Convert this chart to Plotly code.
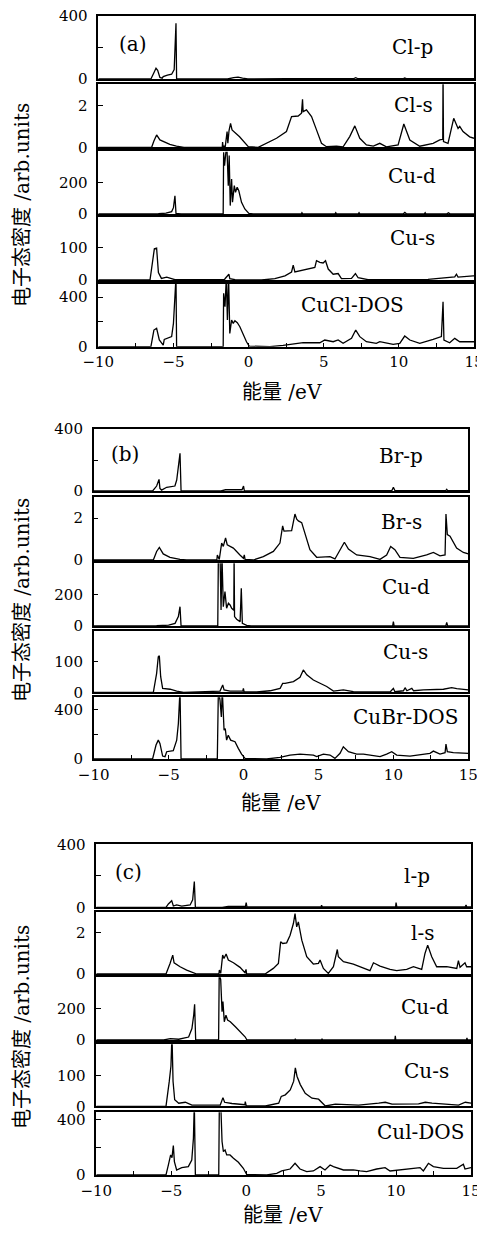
import plotly.graph_objects as go

W, H = 485, 1235
PAGE_MARGIN = 8  # default <body> margin of the written page

# ---------------- data: (energy eV, DOS) ----------------
A_CL_P = [(-10,0),(-6.5,0),(-6.3,40),(-6.16,68),(-6.05,55),(-5.9,10),(-5.75,5),(-5.68,15),(-5.4,25),(-5.12,30),
          (-4.95,60),(-4.9,204),(-4.83,352),(-4.79,0),(-1.4,0),(-1.0,8),(-0.7,12),(-0.4,6),(-0.05,0),(2.5,2),(5,3),
          (7.0,3),(7.13,8),(7.25,3),(10.3,3),(10.39,6),(10.5,3),(12.9,3),(12.94,7),(13.0,3),(15,3)]
A_CL_S = [(-10,0),(-6.45,0),(-6.3,0.3),(-6.12,0.59),(-5.9,0.35),(-5.68,0.27),(-5.24,0.14),(-4.8,0.06),(-4.3,0),
          (-1.75,0),(-1.73,0.25),(-1.7,0.05),(-1.55,0.05),(-1.43,0.75),(-1.38,0.2),(-1.3,0.8),(-1.2,1.14),(-1.1,0.83),
          (-0.6,0.5),(-0.02,0.03),(0.64,0),(1.2,0.19),(1.86,0.43),(2.52,0.75),(2.86,1.46),(3.3,1.49),(3.52,1.62),
          (3.59,2.29),(3.63,1.70),(3.85,1.78),(4.19,1.46),(4.52,0.83),(4.85,0.19),(5.18,0.03),(5.85,0.06),(6.29,0.02),
          (6.73,0.51),(7.07,1.02),(7.4,0.43),(7.84,0.11),(8.3,0.06),(8.73,0.19),(9.17,0.02),(9.95,0.11),(10.33,1.11),
          (10.73,0.35),(11.39,0.05),(12.28,0.19),(12.72,0.35),(12.92,0.38),(12.94,3.5),(12.97,0.27),(13.27,0.19),
          (13.65,1.38),(13.94,0.9),(14.05,1.0),(14.27,0.75),(14.71,0.5),(15,0.43)]
A_CU_D = [(-10,0),(-6.34,0),(-6.0,2),(-5.5,5),(-5.12,15),(-5.0,40),(-4.9,115),(-4.83,4),(-4.5,0),(-1.69,0),
          (-1.66,390),(-1.6,305),(-1.55,380),(-1.51,390),(-1.43,390),(-1.35,179),(-1.29,370),(-1.22,53),(-1.13,221),
          (-1.07,74),(-0.95,179),(-0.87,137),(-0.76,169),(-0.65,147),(-0.47,74),(-0.25,32),(0.02,4),(0.3,0),(3.5,0),
          (3.55,8),(3.6,1),(5.75,1),(5.8,8),(5.85,1),(7.3,1),(7.35,8),(7.4,1),(10.3,1),(10.4,10),(10.5,1),(11.7,1),
          (11.75,8),(11.8,1),(13.2,1),(13.3,8),(13.4,1),(15,1)]
A_CU_S = [(-10,0),(-6.56,0),(-6.27,97),(-6.12,99),(-6.0,23),(-5.8,5),(-5.45,9),(-5.12,5),(-4.9,1),(-1.6,1),
          (-1.57,4),(-1.31,18),(-1.25,4),(-0.9,1),(0.86,0),(1.75,4),(2.42,13),(2.86,25),(2.97,46),(3.08,25),(4.41,39),
          (4.52,60),(4.74,55),(4.96,53),(5.12,60),(5.3,34),(5.63,18),(5.96,20),(6.18,4),(6.85,5),(7.11,20),(7.29,7),
          (7.95,1),(11.94,2),(13.05,7),(13.72,10),(13.83,18),(13.94,9),(14.94,13),(15,13)]
A_DOS = [(-10,0),(-6.5,0),(-6.3,134),(-6.12,148),(-5.94,54),(-5.68,13),(-5.61,59),(-5.12,81),(-5.0,188),(-4.9,376),
         (-4.83,560),(-4.79,0),(-1.69,0),(-1.66,430),(-1.57,322),(-1.48,560),(-1.41,215),(-1.33,560),(-1.25,107),
         (-1.13,215),(-1.02,188),(-0.91,209),(-0.75,193),(-0.58,161),(-0.36,94),(-0.14,40),(0.04,5),(1.42,0),(2.3,11),
         (3.41,27),(3.63,32),(4.74,32),(5.07,54),(5.63,40),(5.96,54),(6.29,27),(6.85,67),(7.13,134),(7.4,81),
         (7.84,40),(8.5,27),(8.73,40),(9.62,19),(10.06,27),(10.39,86),(10.73,54),(11.39,27),(12.28,59),(12.83,81),
         (12.94,362),(13.0,54),(13.38,32),(13.72,67),(14.05,40),(15,40)]

B_BR_P = [(-10,0),(-6.07,0),(-5.8,32),(-5.64,75),(-5.58,17),(-5.47,6),(-5.13,24),(-4.58,32),(-4.46,71),(-4.35,157),
          (-4.24,243),(-4.17,0),(-1.5,0),(-1.2,8),(-0.5,10),(-0.1,8),(0.0,32),(0.05,3),(0.2,0),(2.5,2),(5,3),(7,3),
          (9.9,3),(10.0,24),(10.1,3),(13.5,3),(13.56,11),(13.62,3),(15,3)]
B_BR_S = [(-10,0),(-6.02,0),(-5.8,0.41),(-5.62,0.6),(-5.36,0.29),(-4.91,0.13),(-4.24,0.03),(-3.8,0),(-1.78,0),
          (-1.75,0.24),(-1.62,0.03),(-1.46,0.81),(-1.35,0.65),(-1.2,1.06),(-1.09,0.73),(-0.68,0.57),(-0.24,0.24),
          (-0.01,0.08),(0.05,0.24),(0.1,0.03),(0.65,0),(1.32,0.16),(1.99,0.41),(2.43,0.81),(2.61,1.63),(2.7,1.38),
          (3.21,1.41),(3.32,1.79),(3.43,2.2),(3.55,1.95),(3.66,1.87),(3.88,1.79),(4.1,1.3),(4.43,0.49),(4.88,0.13),
          (5.77,0.16),(6.1,0.05),(6.44,0.49),(6.73,0.85),(7.0,0.52),(7.55,0.24),(8.44,0.16),(9.11,0.03),(9.55,0.24),
          (9.82,0.65),(10.1,0.49),(10.44,0.13),(11.33,0.08),(12.22,0.24),(12.67,0.36),(13.11,0.2),(13.45,0.24),
          (13.51,2.2),(13.6,1.22),(13.78,1.14),(14.22,0.57),(14.67,0.36),(15,0.29)]
B_CU_D = [(-10,0),(-6.0,0),(-5.8,2),(-5.0,5),(-4.57,17),(-4.35,60),(-4.24,123),(-4.17,0),(-3.5,0),(-1.72,0),
          (-1.68,450),(-1.57,450),(-1.5,102),(-1.44,450),(-1.35,123),(-1.24,219),(-1.13,113),(-1.01,145),(-0.9,134),
          (-0.79,113),(-0.65,100),(-0.63,450),(-0.6,60),(-0.46,43),(-0.23,28),(-0.15,240),(-0.08,17),(0.21,4),(0.5,0),
          (9.95,0),(10.0,28),(10.05,0),(13.5,0),(13.56,23),(13.62,0),(15,0)]
B_CU_S = [(-10,0),(-6.02,0),(-5.8,62),(-5.69,116),(-5.62,119),(-5.53,51),(-5.4,13),(-4.9,10),(-4.46,4),(-4.0,0),
          (-1.57,4),(-1.39,24),(-1.3,8),(-0.9,4),(-0.05,4),(-0.01,13),(0.04,1),(0.88,1),(1.77,5),(2.44,13),(2.61,29),
          (2.77,29),(3.33,35),(3.77,49),(3.99,73),(4.22,57),(4.66,40),(5.11,29),(5.55,19),(6.0,4),(6.66,8),(7.33,2),
          (9.78,1),(10.0,13),(10.1,2),(10.67,5),(10.78,15),(10.9,5),(11.23,13),(11.35,5),(12.0,8),(13.34,10),
          (13.89,15),(14.23,12),(14.9,8),(15,8)]
B_DOS = [(-10,0),(-6.07,0),(-5.84,113),(-5.69,153),(-5.58,126),(-5.4,24),(-5.24,19),(-5.13,59),(-4.69,67),
         (-4.46,153),(-4.35,287),(-4.24,560),(-4.17,0),(-1.75,0),(-1.68,560),(-1.57,475),(-1.48,341),(-1.42,560),
         (-1.3,234),(-1.22,247),(-1.13,153),(-1.02,193),(-0.86,153),(-0.57,140),(-0.35,86),(-0.13,40),(0.1,5),
         (1.54,0),(2.43,13),(3.1,32),(3.77,40),(4.66,32),(4.88,19),(5.33,40),(5.77,32),(6.1,5),(6.44,46),(6.66,99),
         (7.0,59),(7.55,40),(8.0,40),(8.44,32),(9.11,19),(9.55,40),(9.89,59),(10.22,32),(11.11,24),(12.44,46),
         (12.67,64),(13.11,40),(13.45,51),(13.51,121),(13.6,59),(14.0,51),(15,46)]

C_I_P = [(-10,0),(-5.35,0),(-5.19,21),(-4.97,42),(-4.86,8),(-4.64,15),(-4.3,8),(-3.74,15),(-3.57,47),(-3.46,163),
         (-3.39,0),(-1.6,0),(-1.2,5),(-0.5,6),(-0.05,5),(0.0,30),(0.05,2),(2.0,2),(5.0,2),(5.03,13),(5.08,2),
         (9.97,2),(10.0,30),(10.05,2),(14.6,2),(14.67,15),(14.72,2),(15,2)]
C_I_S = [(-10,0),(-5.35,0),(-5.08,0.51),(-4.9,0.91),(-4.81,0.54),(-4.41,0.35),(-3.97,0.19),(-3.41,0.06),(-3.3,0),
         (-1.82,0),(-1.79,0.19),(-1.7,0.03),(-1.57,0.91),(-1.48,0.75),(-1.34,0.96),(-1.19,0.67),(-0.85,0.54),
         (-0.41,0.32),(-0.08,0.06),(-0.01,0.22),(0.03,0),(1.26,0),(1.81,0.27),(2.15,0.51),(2.3,1.55),(2.44,1.47),
         (2.7,1.5),(2.93,1.87),(3.15,2.43),(3.26,2.91),(3.37,2.27),(3.48,2.51),(3.71,1.63),(4.04,0.83),(4.48,0.48),
         (4.82,0.51),(4.93,0.67),(5.15,0.27),(5.48,0.03),(5.82,0.35),(6.08,1.18),(6.15,0.83),(6.49,0.59),(7.15,0.48),
         (7.82,0.3),(8.26,0.16),(8.49,0.54),(8.93,0.38),(9.6,0.22),(10.04,0.16),(10.71,0.22),(11.16,0.35),
         (11.71,0.22),(11.93,0.99),(12.11,1.39),(12.38,0.83),(12.71,0.35),(13.38,0.35),(14.05,0.27),(14.16,0.64),
         (14.27,0.32),(14.6,0.54),(14.71,0.35),(15,0.35)]
C_CU_D = [(-10,0),(-5.5,0),(-5.06,9),(-4.5,5),(-3.84,19),(-3.62,73),(-3.5,159),(-3.44,228),(-3.37,0),(-1.84,0),
          (-1.8,420),(-1.7,385),(-1.61,181),(-1.55,245),(-1.46,116),(-1.35,159),(-1.24,127),(-1.06,116),(-0.72,84),
          (-0.39,52),(-0.06,19),(0.05,0),(3.25,0),(3.28,9),(3.31,0),(5.03,0),(5.06,9),(5.09,0),(9.92,0),(9.95,26),
          (9.98,0),(14.7,0),(14.73,13),(14.76,0),(15,0)]
C_CU_S = [(-10,0),(-5.35,0),(-5.13,81),(-5.02,130),(-4.95,230),(-4.88,81),(-4.77,21),(-4.5,10),(-4.06,13),
          (-3.62,4),(-1.73,4),(-1.55,28),(-1.44,13),(-0.95,9),(-0.09,5),(-0.06,15),(0.0,2),(1.28,1),(2.17,10),
          (2.34,32),(2.61,37),(2.94,53),(3.17,81),(3.28,124),(3.39,97),(3.61,70),(3.94,42),(4.39,26),(4.83,23),
          (5.06,13),(5.28,1),(5.95,7),(7.5,4),(8.84,10),(9.28,13),(9.73,7),(11.5,8),(11.95,13),(12.4,10),(14.17,4),
          (14.62,13),(15,10)]
C_DOS = [(-10,0),(-5.35,0),(-5.19,72),(-5.04,144),(-4.95,125),(-4.86,211),(-4.79,96),(-4.64,36),(-4.3,53),
         (-3.86,60),(-3.63,108),(-3.52,263),(-3.46,520),(-3.39,0),(-1.83,0),(-1.79,520),(-1.7,520),(-1.61,240),
         (-1.52,168),(-1.41,180),(-1.3,144),(-1.08,144),(-0.85,120),(-0.52,91),(-0.19,48),(0.03,5),(1.37,0),
         (2.04,12),(2.37,29),(2.93,43),(3.26,84),(3.59,43),(4.04,24),(4.48,29),(4.93,60),(5.26,36),(5.6,72),
         (5.82,60),(6.49,36),(7.15,36),(7.6,29),(8.04,24),(8.71,43),(9.27,53),(9.6,29),(10.27,36),(10.93,43),
         (11.6,53),(11.82,29),(12.16,84),(12.49,60),(13.16,48),(14.05,48),(14.49,77),(14.6,43),(15,53)]

PANEL_LABELS_A = ["Cl-p", "Cl-s", "Cu-d", "Cu-s", "CuCl-DOS"]
PANEL_LABELS_B = ["Br-p", "Br-s", "Cu-d", "Cu-s", "CuBr-DOS"]
PANEL_LABELS_C = ["l-p", "l-s", "Cu-d", "Cu-s", "Cul-DOS"]
GROUP_TAGS = ["(a)", "(b)", "(c)"]

ENERGY_TICKS = [-10, -7.5, -5, -2.5, 0, 2.5, 5, 7.5, 10, 12.5, 15]
ENERGY_TICKTEXT = ["\u221210", "", "\u22125", "", "0", "", "5", "", "10", "", "15"]
Y_TICKS = [[0, 200, 400], [0, 2], [0, 200], [0, 100], [0, 200, 400]]
Y_TICKTEXT = [["0", "", "400"], ["0", "2"], ["0", "200"], ["0", "100"], ["0", "", "400"]]

# ---------------- layout (pixel geometry, in page pixels) ----------------
GROUPS = [
    dict(data=[A_CL_P, A_CL_S, A_CU_D, A_CU_S, A_DOS], labels=PANEL_LABELS_A, tag=GROUP_TAGS[0],
         x=(98.3, 474.0),
         rows=[(15.7, 79), (84.3, 147.3), (150.7, 214), (217.3, 280), (284, 346.7)],
         ranges=[[0, 400], [0, 3], [0, 400], [0, 195], [0, 505]],
         tagpos=(133, 44), labpos=[(412, 47), (413, 105), (412, 176), (412, 238), (352, 305)],
         xtitle=(282, 392), ytitle=(22, 205)),
    dict(data=[B_BR_P, B_BR_S, B_CU_D, B_CU_S, B_DOS], labels=PANEL_LABELS_B, tag=GROUP_TAGS[1],
         x=(93.7, 468.3),
         rows=[(429, 491), (497.3, 560), (563.3, 626), (631, 692.3), (697.3, 759)],
         ranges=[[0, 400], [0, 3], [0, 400], [0, 200], [0, 500]],
         tagpos=(125, 454), labpos=[(401, 456), (401, 522), (406, 587), (405, 652), (405, 717)],
         xtitle=(281, 803), ytitle=(22, 600)),
    dict(data=[C_I_P, C_I_S, C_CU_D, C_CU_S, C_DOS], labels=PANEL_LABELS_C, tag=GROUP_TAGS[2],
         x=(96.3, 471.0),
         rows=[(844.3, 907.3), (911.7, 974), (977.3, 1040), (1044.3, 1106.3), (1112.3, 1175)],
         ranges=[[0, 400], [0, 3], [0, 400], [0, 200], [0, 450]],
         tagpos=(128, 872), labpos=[(417, 876), (422, 933), (425, 1007), (426, 1071), (420, 1132)],
         xtitle=(283, 1215), ytitle=(22, 1027)),
]

SERIF = "DejaVu Serif"
MIXED = "DejaVu Serif, Noto Sans CJK SC"

fig = go.Figure()
layout = dict(width=W, height=H, margin=dict(l=0, r=0, t=0, b=0, autoexpand=False),
              paper_bgcolor="white", plot_bgcolor="white", showlegend=False)
annotations = []


def px(x):
    return (x - PAGE_MARGIN) / W


def py(y):
    return 1 - (y - PAGE_MARGIN) / H


k = 0
for g in GROUPS:
    for i, series in enumerate(g["data"]):
        k += 1
        xs = [p[0] for p in series]
        ys = [p[1] for p in series]
        fig.add_trace(go.Scatter(x=xs, y=ys, mode="lines",
                                 line=dict(color="black", width=1.3),
                                 xaxis="x%d" % k, yaxis="y%d" % k, hoverinfo="skip"))
        top, bot = g["rows"][i]
        bottom_panel = (i == 4)
        xa = dict(domain=[px(g["x"][0]), px(g["x"][1])], range=[-10, 15], anchor="y%d" % k,
                  automargin=False, ticklabeloverflow="allow",
                  showline=True, mirror=True, linecolor="black", linewidth=1.5,
                  showgrid=False, zeroline=False, fixedrange=True,
                  tickvals=ENERGY_TICKS, ticktext=ENERGY_TICKTEXT,
                  ticks="inside" if bottom_panel else "", ticklen=4, tickcolor="black",
                  showticklabels=bottom_panel, ticklabelstandoff=1,
                  tickfont=dict(family=SERIF, size=15, color="black"))
        ya = dict(domain=[py(bot), py(top)], range=g["ranges"][i], anchor="x%d" % k,
                  automargin=False, ticklabeloverflow="allow",
                  showline=True, mirror=True, linecolor="black", linewidth=1.5,
                  showgrid=False, zeroline=False, fixedrange=True,
                  tickvals=Y_TICKS[i], ticktext=Y_TICKTEXT[i],
                  ticks="inside", ticklen=5, tickcolor="black", ticklabelstandoff=6,
                  tickfont=dict(family=SERIF, size=15, color="black"))
        layout["xaxis%d" % k] = xa
        layout["yaxis%d" % k] = ya
        lx, ly = g["labpos"][i]
        annotations.append(dict(x=px(lx), y=py(ly), xref="paper", yref="paper", text=g["labels"][i],
                                showarrow=False, xanchor="center", yanchor="middle",
                                font=dict(family=SERIF, size=20, color="black")))
    tx, ty = g["tagpos"]
    annotations.append(dict(x=px(tx), y=py(ty), xref="paper", yref="paper", text=g["tag"],
                            showarrow=False, xanchor="center", yanchor="middle",
                            font=dict(family=SERIF, size=20, color="black")))
    ax_, ay_ = g["xtitle"]
    annotations.append(dict(x=px(ax_), y=py(ay_), xref="paper", yref="paper", text="能量 /eV",
                            showarrow=False, xanchor="center", yanchor="middle",
                            font=dict(family=MIXED, size=20, color="black")))
    yx, yy = g["ytitle"]
    annotations.append(dict(x=px(yx), y=py(yy), xref="paper", yref="paper", text="电子态密度 /arb.units",
                            showarrow=False, xanchor="center", yanchor="middle", textangle=-90,
                            font=dict(family=MIXED, size=20, color="black")))

layout["annotations"] = annotations
fig.update_layout(**layout)
fig.write_html("out.html")
